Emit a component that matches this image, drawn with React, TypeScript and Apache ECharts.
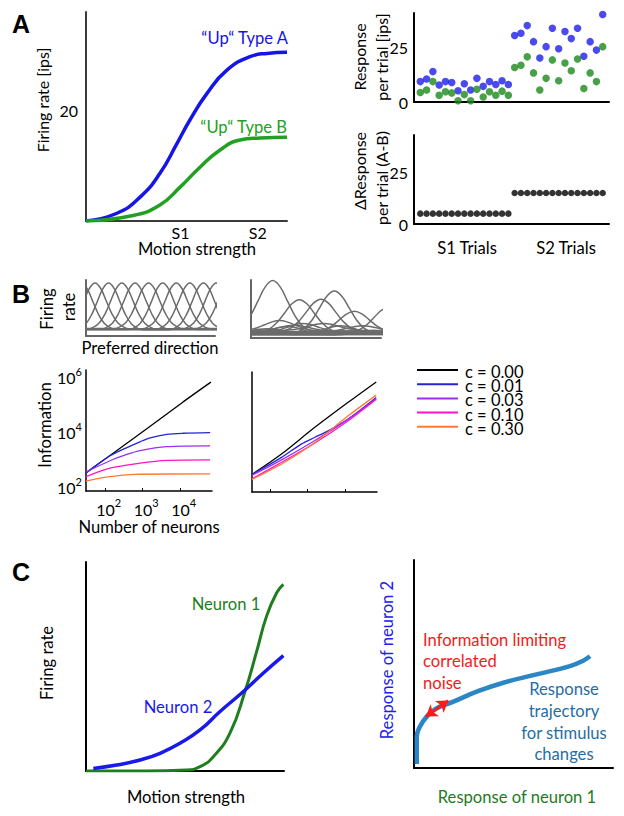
import React, { useEffect, useRef } from 'react';
import * as echarts from 'echarts';

const FONT = 'Lato, "Open Sans", sans-serif';

// ---------- Panel A (left): tuning of two "Up" neurons ----------
const typeAX = [0, 15.4, 26.9, 36.8, 45.3, 51.7, 60.2, 70.1, 81.6, 90, 100];
const typeAY = [0, 1.4, 4.3, 8.6, 14, 18.2, 23, 27.2, 29.6, 30.2, 30.4];
const typeBX = [0, 23.4, 36.8, 46.8, 56.7, 66.7, 76.6, 86.6, 100];
const typeBY = [0, 1, 2.9, 6.1, 9.7, 12.8, 14.6, 14.95, 15.1];
const motionTicks = [47, 85.5];
const motionTickLabels = ['S1', 'S2'];
const rateTicks = [20];

// ---------- Panel A (right): responses per trial ----------
const trialIdx = Array.from({ length: 30 }, (_, i) => i + 1);
const blueResp = [
  9.4, 10.6, 14, 7.8, 9.4, 9, 5.2, 8.4, 5.5, 10.9, 7.2, 9.4, 8.1, 9.8, 8.1,
  30.6, 31.7, 35.2, 27.8, 20.3, 25.5, 34, 24.5, 32.5, 29.2, 34, 21.1, 27.8, 23.9, 40.3,
];
const greenResp = [
  4.4, 5.5, 9.4, 3.1, 4.7, 4.2, 0.6, 3.4, 0.6, 5.9, 2.3, 4.7, 3.1, 5, 3.1,
  15.9, 16.9, 20.8, 13.4, 5.5, 10.9, 19.4, 9.8, 18, 14.4, 19.8, 6.25, 13.4, 9.4, 25.5,
];
const diffResp = [
  5, 5, 5, 5, 5, 5, 5, 5, 5, 5, 5, 5, 5, 5, 5,
  15, 15, 15, 15, 15, 15, 15, 15, 15, 15, 15, 15, 15, 15, 15,
];
const respTicks = [0, 25];

// ---------- Panel B: tuning curves ----------
const tuneShape: number[][] = [
  [-3, 0], [-2.5, 0.04], [-2, 0.13], [-1.5, 0.32], [-1, 0.6], [-0.5, 0.88], [0, 1],
  [0.5, 0.88], [1, 0.6], [1.5, 0.32], [2, 0.13], [2.5, 0.04], [3, 0],
];
const leftTuneCenters = [-0.35, 0.7, 1.75, 2.78, 3.8, 4.85, 5.95, 7.0, 8.05, 9.1, 10.1, 11.1];
const leftTuneBases = [0.12, 0.13, 0.11, 0.125, 0.12, 0.135, 0.115, 0.13, 0.12, 0.11, 0.125, 0.13];
const leftTunePeak = 0.946;
const leftTuneWidth = 0.88;
const rightTuneCenters = [1.67, 3.72, 5.38, 6.41, 7.95, 10.6, 2.2, 2.8, 4.0, 5.6, 6.9, 8.6, 9.4, 1.2, 3.3, 0.5];
const rightTuneAmps = [0.9, 0.58, 0.57, 0.74, 0.37, 0.45, 0.18, 0.14, 0.15, 0.12, 0.14, 0.1, 0.08, 0.07, 0.1, 0.05];
const rightTuneBases = [0.09, 0.08, 0.1, 0.07, 0.09, 0.08, 0.12, 0.06, 0.1, 0.13, 0.07, 0.11, 0.05, 0.09, 0.12, 0.06];
const rightTuneWidth = 1.15;

// ---------- Panel B: information vs number of neurons (log10 units) ----------
const cNames = ['c = 0.00', 'c = 0.01', 'c = 0.03', 'c = 0.10', 'c = 0.30'];
const cColors = ['#000000', '#2424d8', '#9b30f0', '#ff14c8', '#ff7a30'];
const infoLeftN = [
  [1.49, 2.13, 3.12, 4.08, 4.82],
  [1.49, 2.13, 2.58, 2.93, 3.2, 3.64, 4.08, 4.8],
  [1.49, 2.13, 2.58, 2.93, 3.64, 4.8],
  [1.49, 2.13, 2.93, 3.64, 4.8],
  [1.49, 2.13, 2.93, 4.8],
];
const infoLeftI = [
  [2.55, 3.18, 4.16, 5.13, 5.85],
  [2.55, 3.17, 3.47, 3.68, 3.82, 3.95, 3.99, 4.01],
  [2.58, 2.99, 3.22, 3.36, 3.5, 3.53],
  [2.41, 2.72, 2.9, 3.0, 3.02],
  [2.25, 2.41, 2.5, 2.51],
];
const infoRightN = [
  [1.53, 2.3, 3.18, 4.06, 4.81],
  [1.53, 2.3, 2.83, 3.18, 3.54, 4.06, 4.81],
  [1.53, 2.3, 3.18, 4.06, 4.81],
  [1.53, 2.3, 3.18, 4.06, 4.81],
  [1.53, 2.3, 3.18, 4.06, 4.81],
];
const infoRightI = [
  [2.53, 3.26, 4.23, 5.14, 5.89],
  [2.53, 3.14, 3.63, 3.87, 4.11, 4.53, 5.32],
  [2.5, 3.05, 3.75, 4.53, 5.28],
  [2.37, 2.96, 3.66, 4.47, 5.26],
  [2.35, 2.9, 3.68, 4.65, 5.41],
];
const neuronTicks = [2, 3, 4];
const infoTicks = [2, 4, 6];

// ---------- Panel C ----------
const neuron1X = [0, 30, 50.8, 57.6, 64.3, 72.7, 80.3, 86.2, 91.2, 96.3, 99.7];
const neuron1Y = [0, 0, 0.5, 2.3, 7.7, 20.3, 42.6, 64.1, 83, 95.5, 100];
const neuron2X = [3.7, 15.5, 27.3, 37.4, 47.5, 57.6, 67.7, 79.5, 89.6, 99.7];
const neuron2Y = [1.4, 3.2, 5.9, 9.5, 14.9, 22, 31.9, 42.6, 52.5, 61.8];
const trajX = [1.4, 1.4, 3, 6.4, 11.4, 19.8, 31.5, 44.9, 61.6, 78.4, 85, 88.4];
const trajY = [1.9, 15, 19.9, 24.7, 28.7, 31.9, 36.7, 41, 45, 49, 51.6, 53.8];
const noiseArrow = [[6.0, 24.7], [17.2, 32.4]];

const zip = (xs: number[], ys: number[]) => xs.map((x, i) => [x, ys[i]]);

const tuneCurve = (c: number, base: number, amp: number, w: number) => [
  [-6, base],
  [c - 3.5 * w, base],
  ...tuneShape.map(([o, h]) => [c + o * w, base + amp * h]),
  [c + 3.5 * w, base],
  [16, base],
];

const T = (text: string, x: number, y: number, o: any = {}) => ({
  type: 'text',
  x,
  y,
  rotation: o.rot ? Math.PI / 2 : 0,
  silent: true,
  style: {
    text,
    fill: o.color || '#000',
    fontSize: o.size || 16.6,
    fontFamily: o.family || FONT,
    fontWeight: o.bold ? 'bold' : 'normal',
    align: o.align || 'center',
    verticalAlign: 'middle',
  },
});

const axis = (gridIndex: number, min: number, max: number, color = '#000', width = 2, extra: any = {}) => ({
  gridIndex,
  type: 'value',
  min,
  max,
  axisLine: { show: true, onZero: false, lineStyle: { color, width } },
  axisTick: { show: false },
  axisLabel: { show: false },
  splitLine: { show: false },
  ...extra,
});

const plainLabel = (values: number[], margin: number, formatter?: (v: number) => string) => ({
  show: true,
  customValues: values,
  margin,
  color: '#000',
  fontSize: 16,
  fontFamily: FONT,
  formatter: formatter || ((v: number) => String(v)),
});

const powLabel = (values: number[], margin: number, padLeft: number) => ({
  show: true,
  customValues: values,
  margin,
  color: '#000',
  fontSize: 16,
  fontFamily: FONT,
  lineHeight: 24,
  padding: [0, 0, 0, padLeft],
  formatter: (v: number) => '10{s|' + v + '}',
  rich: { s: { fontSize: 11, lineHeight: 11, verticalAlign: 'top', fontFamily: FONT, color: '#000' } },
});

const grids = [
  { left: 86, top: 12, width: 201, height: 209 },
  { left: 414, top: 13, width: 195, height: 89 },
  { left: 414, top: 135, width: 195, height: 89 },
  { left: 86, top: 280, width: 129, height: 56 },
  { left: 251, top: 280, width: 130, height: 58 },
  { left: 86, top: 370, width: 126, height: 121 },
  { left: 252, top: 372, width: 125, height: 120 },
  { left: 86, top: 562, width: 198, height: 209 },
  { left: 414, top: 560, width: 199, height: 208 },
].map((g) => ({ ...g, outerBoundsMode: 'none', containLabel: false }));

const xAxes = [
  axis(0, 0, 100, '#3a3a3a', 2, {
    axisLabel: plainLabel(motionTicks, 3, (v) => motionTickLabels[motionTicks.indexOf(v)]),
  }),
  axis(1, 0, 31),
  axis(2, 0, 31),
  axis(3, 0, 10, '#666', 2),
  axis(4, 0, 10, '#666', 2),
  axis(5, 1.49, 4.85, '#000', 1.5, {
    axisTick: { show: true, customValues: neuronTicks, inside: true, length: 3, lineStyle: { color: '#000', width: 1 } },
    axisLabel: powLabel(neuronTicks, 6, 7),
  }),
  axis(6, 1.53, 4.83, '#000', 1.5, {
    axisTick: { show: true, customValues: neuronTicks, inside: true, length: 3, lineStyle: { color: '#000', width: 1 } },
  }),
  axis(7, 0, 100, '#000', 2),
  axis(8, 0, 100, '#000', 2),
];

const yAxes = [
  axis(0, 0, 37.66, '#3a3a3a', 2, { axisLabel: plainLabel(rateTicks, 8) }),
  axis(1, 0, 41, '#000', 2, { axisLabel: plainLabel(respTicks, 6) }),
  axis(2, 0, 43, '#000', 2, { axisLabel: plainLabel(respTicks, 6) }),
  axis(3, 0, 1, '#666', 2),
  axis(4, 0, 1, '#666', 2),
  axis(5, 1.89, 6.29, '#000', 1.5, { axisLabel: powLabel(infoTicks, 4, 0) }),
  axis(6, 1.89, 6.25, '#000', 1.5),
  axis(7, 0, 112, '#000', 2),
  axis(8, 0, 100, '#000', 2),
];

const lineS = (name: string, gi: number, data: number[][], color: string, width: number, smooth: any = 0.5) => ({
  name,
  type: 'line',
  xAxisIndex: gi,
  yAxisIndex: gi,
  data,
  smooth,
  symbol: 'none',
  showSymbol: false,
  color,
  lineStyle: { color, width },
  silent: true,
  clip: true,
});

const series: any[] = [
  lineS('“Up“ Type A', 0, zip(typeAX, typeAY), '#1515e6', 3.5),
  lineS('“Up“ Type B', 0, zip(typeBX, typeBY), '#22a022', 3.5),
  {
    name: 'Type A trials', type: 'scatter', xAxisIndex: 1, yAxisIndex: 1,
    data: zip(trialIdx, blueResp), symbolSize: 7.5, itemStyle: { color: '#1e1ee8' }, silent: true,
  },
  {
    name: 'Type B trials', type: 'scatter', xAxisIndex: 1, yAxisIndex: 1,
    data: zip(trialIdx, greenResp), symbolSize: 7.5, itemStyle: { color: '#1a8a1a' }, silent: true,
  },
  {
    name: 'A-B', type: 'scatter', xAxisIndex: 2, yAxisIndex: 2,
    data: zip(trialIdx, diffResp), symbolSize: 6.5, itemStyle: { color: '#000' }, silent: true,
  },
  ...leftTuneCenters.map((c, i) =>
    lineS('tuneL' + i, 3, tuneCurve(c, leftTuneBases[i], leftTunePeak - leftTuneBases[i], leftTuneWidth), '#6b6b6b', 1.5, 0.4)
  ),
  ...rightTuneCenters.map((c, i) =>
    lineS('tuneR' + i, 4, tuneCurve(c, rightTuneBases[i], rightTuneAmps[i], rightTuneWidth), '#6b6b6b', 1.5, 0.4)
  ),
  ...cNames.map((n, i) => lineS(n, 5, zip(infoLeftN[i], infoLeftI[i]), cColors[i], 1.3, 0.3)),
  ...cNames.map((n, i) => lineS(n, 6, zip(infoRightN[i], infoRightI[i]), cColors[i], 1.3, 0.3)),
  lineS('Neuron 1', 7, zip(neuron1X, neuron1Y), '#1e7d1e', 3),
  lineS('Neuron 2', 7, zip(neuron2X, neuron2Y), '#1a1ae8', 3.5),
  {
    ...lineS('Response trajectory', 8, zip(trajX, trajY), '#2a86c4', 4.5),
    markLine: {
      silent: true,
      symbol: ['arrow', 'arrow'],
      symbolSize: [11, 11],
      label: { show: false },
      lineStyle: { color: '#ff1a1a', width: 3, type: 'solid' },
      data: [[{ coord: noiseArrow[0] }, { coord: noiseArrow[1] }]],
    },
  },
];

// legend drawn as graphic (rows are tighter than ECharts' legend allows)
const legendEls: any[] = [];
cNames.forEach((n, i) => {
  const y = 370 + i * 14.2;
  legendEls.push({
    type: 'line', silent: true,
    shape: { x1: 417, y1: y, x2: 458, y2: y },
    style: { stroke: cColors[i], lineWidth: 2 },
  });
  legendEls.push(T(n, 465, y + 2, { align: 'left', size: 16.5 }));
});

const LETTER = '"Liberation Sans", Arial, sans-serif';
const graphics = [
  T('A', 12, 24, { bold: true, size: 25, family: LETTER, align: 'left' }),
  T('B', 12, 294, { bold: true, size: 25, family: LETTER, align: 'left' }),
  T('C', 12, 572, { bold: true, size: 25, family: LETTER, align: 'left' }),
  T('“Up“ Type A', 288, 38, { color: '#1515e6', align: 'right' }),
  T('“Up“ Type B', 287, 127, { color: '#22a022', align: 'right' }),
  T('Motion strength', 197, 249),
  T('Firing rate [ips]', 42, 100, { rot: true, size: 16 }),
  T('Response', 359, 57, { rot: true, size: 16 }),
  T('per trial [ips]', 381, 57, { rot: true, size: 16 }),
  T('ΔResponse', 359, 171, { rot: true, size: 16 }),
  T('per trial (A-B)', 381, 178, { rot: true, size: 16 }),
  T('S1 Trials', 467, 248),
  T('S2 Trials', 566, 248),
  T('Firing', 47, 309, { rot: true }),
  T('rate', 69, 307, { rot: true }),
  T('Preferred direction', 150, 348),
  T('Information', 45, 425, { rot: true }),
  T('Number of neurons', 149, 527),
  T('Neuron 1', 226, 604, { color: '#1f7d1f' }),
  T('Neuron 2', 178, 707, { color: '#1a1ae8' }),
  T('Firing rate', 47, 663, { rot: true }),
  T('Motion strength', 186, 797),
  T('Response of neuron 2', 387, 660, { rot: true, color: '#2020ee' }),
  T('Response of neuron 1', 517, 797, { color: '#1f7a1f' }),
  T('Information limiting', 423, 640, { color: '#f02020', align: 'left' }),
  T('correlated', 423, 661, { color: '#f02020', align: 'left' }),
  T('noise', 423, 683, { color: '#f02020', align: 'left' }),
  T('Response', 564, 689, { color: '#1f6ea5' }),
  T('trajectory', 564, 711, { color: '#1f6ea5' }),
  T('for stimulus', 564, 733, { color: '#1f6ea5' }),
  T('changes', 564, 754, { color: '#1f6ea5' }),
  ...legendEls,
];

const option: any = {
  animation: false,
  backgroundColor: '#ffffff',
  textStyle: { fontFamily: FONT },
  grid: grids,
  xAxis: xAxes,
  yAxis: yAxes,
  series,
  graphic: { elements: graphics },
};

export default function App() {
  const ref = useRef<HTMLDivElement>(null);
  useEffect(() => {
    const chart = echarts.init(ref.current!, null, { renderer: 'svg' });
    chart.setOption(option);
    return () => chart.dispose();
  }, []);
  return (
    <div
      ref={ref}
      style={{ position: 'absolute', left: 0, top: 0, width: 624, height: 816, background: '#fff' }}
    />
  );
}
